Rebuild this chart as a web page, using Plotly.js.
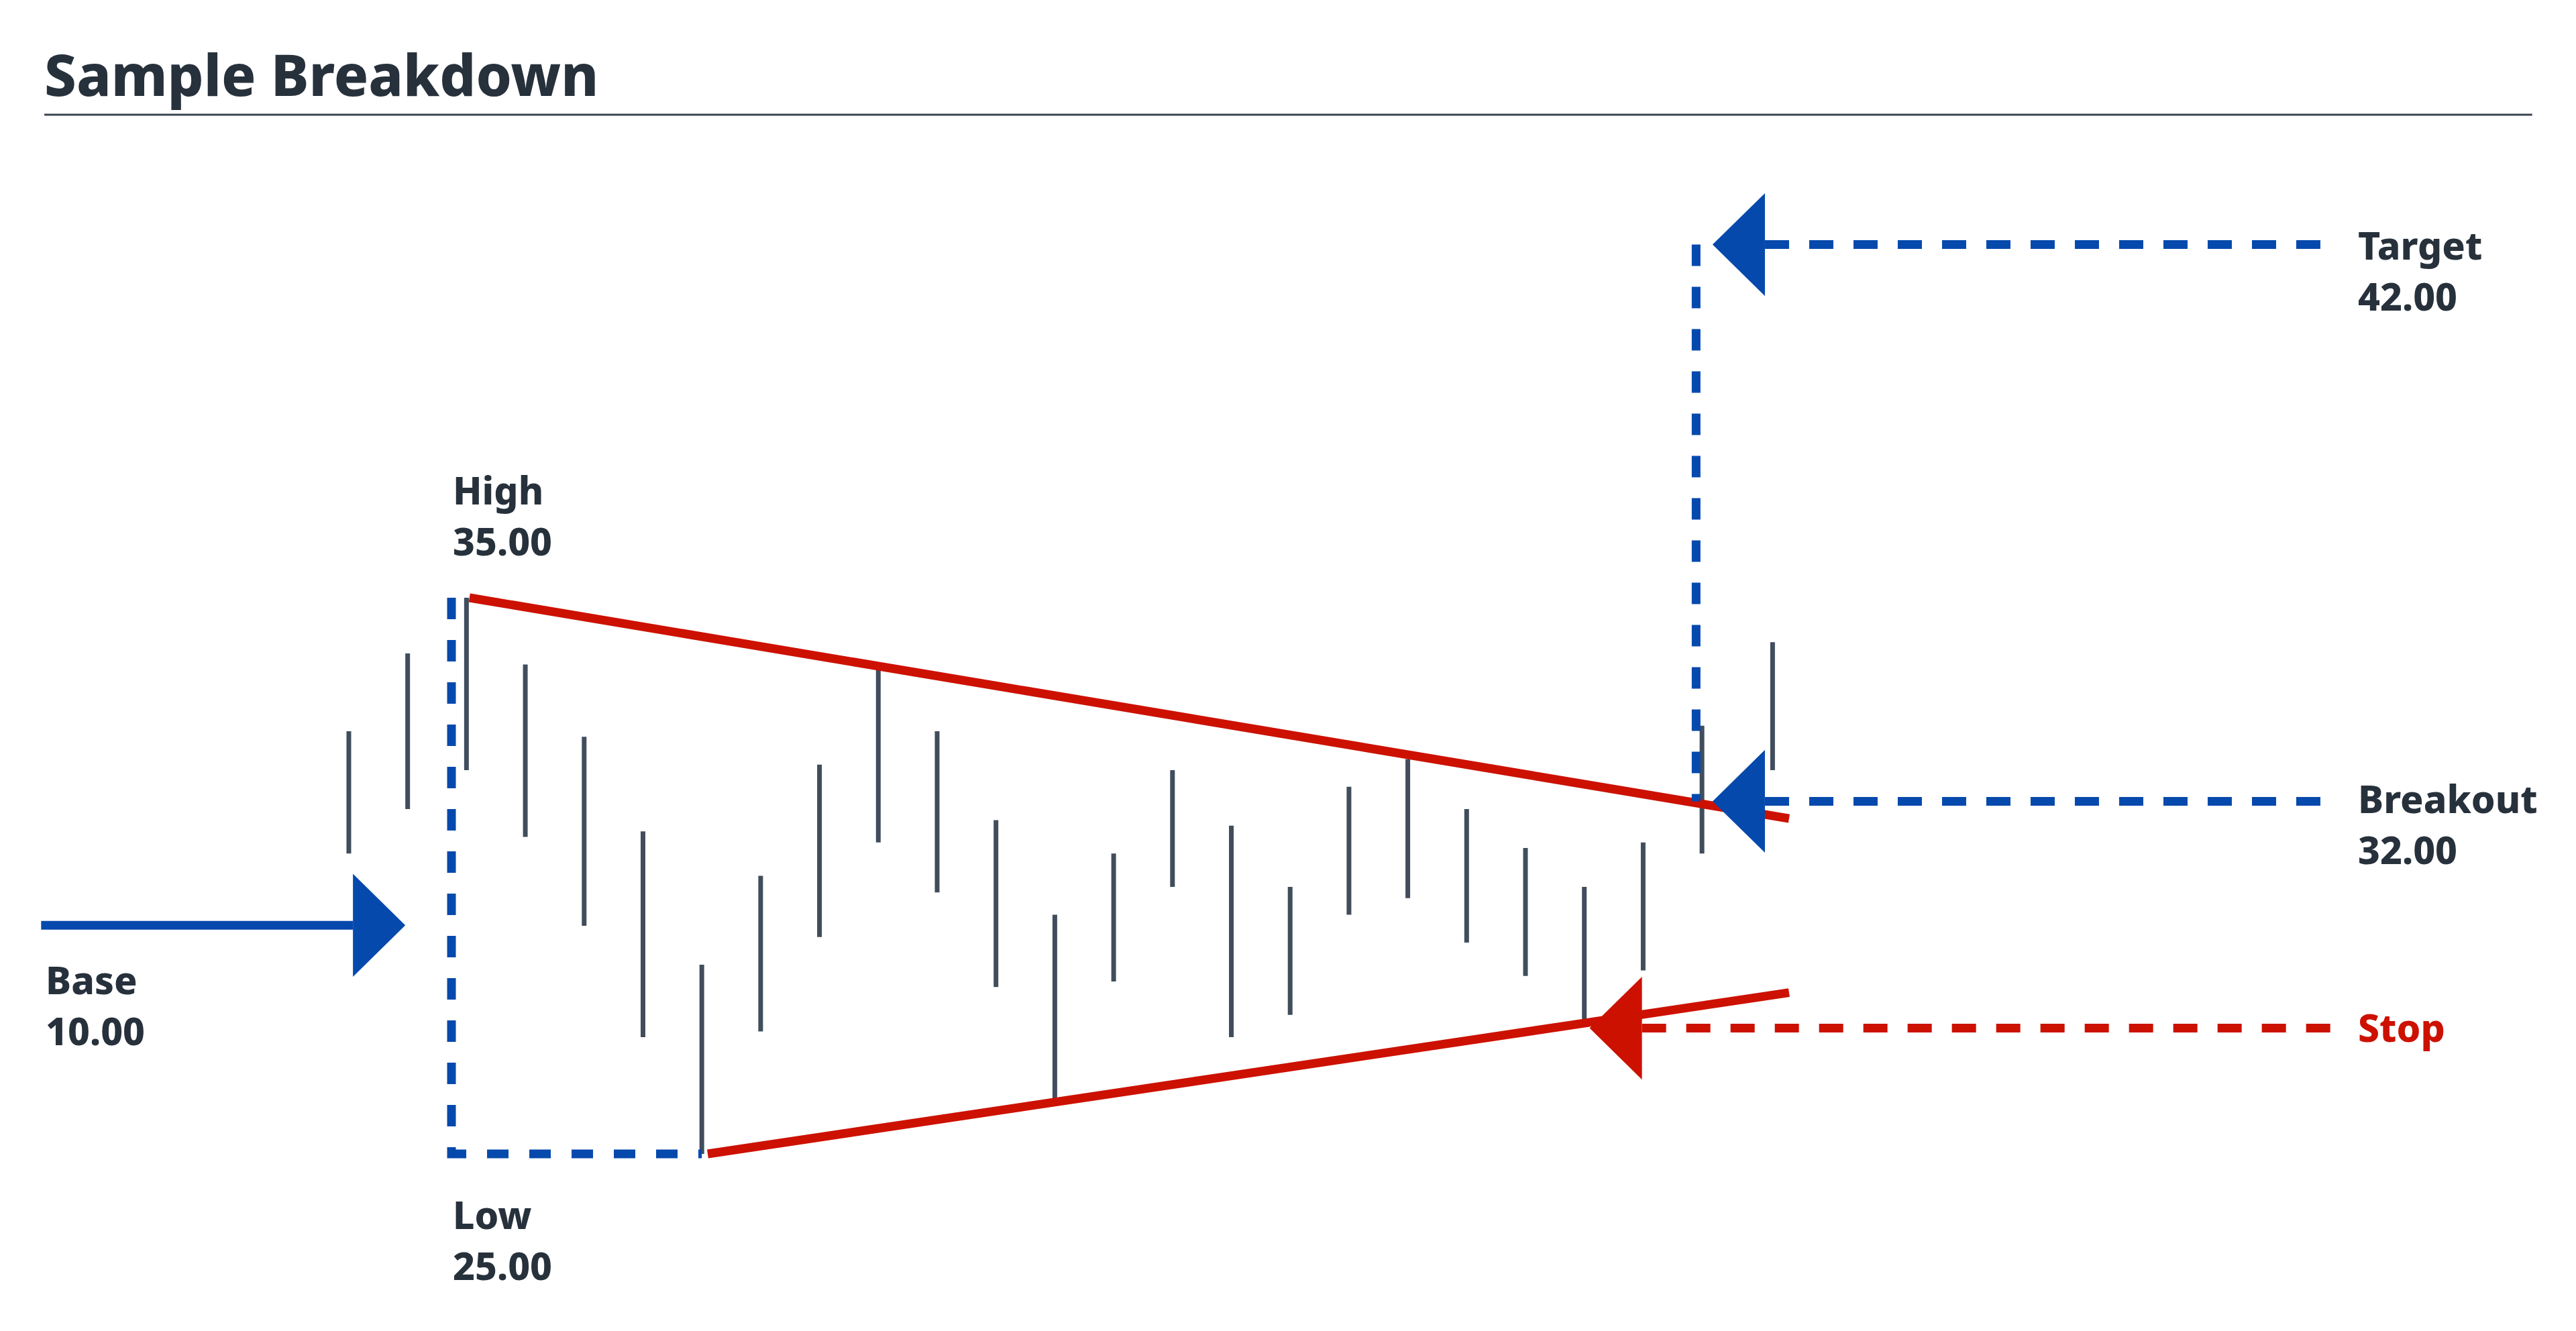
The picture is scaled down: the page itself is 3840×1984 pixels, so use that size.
<!DOCTYPE html>
<html>
<head>
<meta charset="utf-8">
<script src="https://cdn.plot.ly/plotly-3.0.1.min.js"></script>
<style>
  html, body { margin: 0; padding: 0; background: #ffffff; }
  #chart { width: 3840px; height: 1984px; }
</style>
</head>
<body>
<div id="chart"></div>
<script>
// price bars (high / low)
let barX = [0, 1, 2, 3, 4, 5, 6, 7, 8, 9, 10, 11, 12, 13, 14, 15, 16, 17, 18, 19, 20, 21, 22, 23, 24.2];
let barHigh = [32.6, 34.0, 35.0, 33.8, 32.5, 30.8, 28.4, 30.0, 32.0, 33.7, 32.6, 31.0, 29.3, 30.4, 31.9, 30.9, 29.8, 31.6, 32.1, 31.2, 30.5, 29.8, 30.6, 32.7, 34.2];
let barLow = [30.4, 31.2, 31.9, 30.7, 29.1, 27.1, 25.0, 27.2, 28.9, 30.6, 29.7, 28.0, 26.0, 28.1, 29.8, 27.1, 27.5, 29.3, 29.6, 28.8, 28.2, 27.4, 28.3, 30.4, 31.9];

// trend lines
let upperX = [2.05, 24.48];
let upperY = [35.0, 31.03];
let lowerX = [6.1, 24.48];
let lowerY = [25.0, 27.9];

// levels
let highPrice = 35.0;
let lowPrice = 25.0;
let basePrice = 29.11;
let breakoutPrice = 31.34;
let targetPrice = 41.35;
let stopPrice = 27.26;

let highLabel = ["High", "35.00"];
let lowLabel = ["Low", "25.00"];
let baseLabel = ["Base", "10.00"];
let targetLabel = ["Target", "42.00"];
let breakoutLabel = ["Breakout", "32.00"];
let stopLabel = ["Stop"];

const BLUE = "#0649ad";
const RED = "#cc1100";
const GRAY = "#414d5c";
const TEXT = "#27313c";
const FONT = "'Noto Sans', Lato, sans-serif";

const headW = 0.89;   // arrow head width (x units)
const headH = 1.85;   // arrow head height (price units)
const bracketX = 1.745;
const targetX = 22.9;
const headTipX = 23.18;
const stopTipX = 21.09;
const lineEnd = 33.71;
const labelX = 34.13;

// high-low bars as one broken line
let bx = [], by = [];
for (let i = 0; i < barX.length; i++) {
    bx.push(barX[i], barX[i], null);
    by.push(barLow[i], barHigh[i], null);
}

let traces = [];

traces.push({
    x: bx, y: by, mode: "lines",
    line: {color: GRAY, width: 7},
    hoverinfo: "skip"
});

traces.push({
    x: upperX, y: upperY, mode: "lines",
    line: {color: RED, width: 13}, hoverinfo: "skip"
});
traces.push({
    x: lowerX, y: lowerY, mode: "lines",
    line: {color: RED, width: 13}, hoverinfo: "skip"
});

// high/low bracket
traces.push({
    x: [bracketX, bracketX, barX[6]],
    y: [highPrice, lowPrice, lowPrice],
    mode: "lines",
    line: {color: BLUE, width: 13, dash: "32px,31px"}, hoverinfo: "skip"
});

// target / breakout dashed
traces.push({
    x: [targetX, targetX], y: [targetPrice, breakoutPrice],
    mode: "lines",
    line: {color: BLUE, width: 13, dash: "32px,31px"}, hoverinfo: "skip"
});
traces.push({
    x: [headTipX + headW, lineEnd], y: [targetPrice, targetPrice],
    mode: "lines",
    line: {color: BLUE, width: 13, dash: "36px,30px"}, hoverinfo: "skip"
});
traces.push({
    x: [headTipX + headW, lineEnd], y: [breakoutPrice, breakoutPrice],
    mode: "lines",
    line: {color: BLUE, width: 13, dash: "36px,30px"}, hoverinfo: "skip"
});
traces.push({
    x: [stopTipX + headW, lineEnd], y: [stopPrice, stopPrice],
    mode: "lines",
    line: {color: RED, width: 13, dash: "36px,30px"}, hoverinfo: "skip"
});

// base arrow shaft
traces.push({
    x: [-5.23, 0.07], y: [basePrice, basePrice],
    mode: "lines",
    line: {color: BLUE, width: 13}, hoverinfo: "skip"
});

function arrowHead(tipX, tipY, dir, color) {
    // dir = 1 points left (base to the right), -1 points right
    let baseX = tipX + dir * headW;
    return {
        x: [tipX, baseX, baseX, tipX],
        y: [tipY, tipY + headH / 2, tipY - headH / 2, tipY],
        mode: "lines", fill: "toself", fillcolor: color,
        line: {width: 0, color: color}, hoverinfo: "skip"
    };
}

traces.push(arrowHead(0.96, basePrice, -1, BLUE));
traces.push(arrowHead(headTipX, targetPrice, 1, BLUE));
traces.push(arrowHead(headTipX, breakoutPrice, 1, BLUE));
traces.push(arrowHead(stopTipX, stopPrice, 1, RED));

function label(x, y, lines, color, firstShift) {
    let out = [];
    for (let i = 0; i < lines.length; i++) {
        out.push({
            x: x, y: y, xref: "x", yref: "y",
            text: lines[i], showarrow: false,
            xanchor: "left", yanchor: "middle",
            yshift: firstShift - i * 76,
            font: {family: FONT, size: 57, weight: 800, color: color}
        });
    }
    return out;
}

let annotations = [].concat(
    label(bracketX, highPrice, highLabel, TEXT, 161),
    label(bracketX, lowPrice, lowLabel, TEXT, -90),
    label(-5.18, basePrice, baseLabel, TEXT, -81),
    label(labelX, targetPrice, targetLabel, TEXT, 0),
    label(labelX, breakoutPrice, breakoutLabel, TEXT, 4),
    label(labelX, stopPrice, stopLabel, RED, 2)
);

let layout = {
    width: 3840, height: 1984,
    margin: {l: 0, r: 0, t: 0, b: 0},
    paper_bgcolor: "#ffffff", plot_bgcolor: "#ffffff",
    showlegend: false,
    title: {
        text: "Sample Breakdown",
        x: 0.0172, xanchor: "left",
        y: 0.943, yanchor: "middle",
        font: {family: FONT, size: 85, weight: 800, color: TEXT}
    },
    xaxis: {visible: false, range: [-5.929, 37.856], fixedrange: true},
    yaxis: {visible: false, range: [21.815, 45.748], fixedrange: true},
    shapes: [{
        type: "line", xref: "paper", yref: "paper",
        x0: 0.0172, x1: 0.983, y0: 0.9138, y1: 0.9138,
        line: {color: "#3b4450", width: 3}
    }],
    annotations: annotations
};

Plotly.newPlot("chart", traces, layout, {displayModeBar: false, staticPlot: true});
</script>
</body>
</html>
